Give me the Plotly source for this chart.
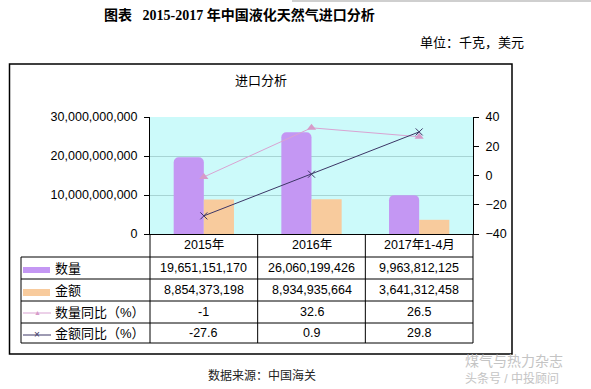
import plotly.graph_objects as go

# ---------------- data ----------------
categories = ["2015年", "2016年", "2017年1-4月"]
quantity = [19651151170, 26060199426, 9963812125]
amount = [8854373198, 8934935664, 3641312458]
quantity_yoy = [-1, 32.6, 26.5]
amount_yoy = [-27.6, 0.9, 29.8]
series_names = ["数量", "金额", "数量同比（%）", "金额同比（%）"]
left_ticks = [0, 10000000000, 20000000000, 30000000000]
right_ticks = [-40, -20, 0, 20, 40]

W, H = 591, 389
def px(x):
    return x / W
def py(y):
    return 1 - y / H

FONT = "Liberation Sans, Noto Sans CJK SC, sans-serif"
PURPLE = "#C497F3"
ORANGE = "#F8CB9D"
PINK = "#D9A3D2"
DARK = "#3C3666"
NUM = 12.5

xidx = list(range(len(categories)))

fig = go.Figure()
fig.add_bar(x=xidx, y=quantity, name=series_names[0], marker=dict(color=PURPLE, cornerradius=5, line_width=0))
fig.add_bar(x=xidx, y=amount, name=series_names[1], marker=dict(color=ORANGE, line_width=0))
fig.add_scatter(x=xidx, y=quantity_yoy, yaxis="y2", mode="lines+markers", name=series_names[2],
                line=dict(color=PINK, width=1),
                marker=dict(symbol="triangle-up", size=8, color="#D69BC9"))
fig.add_scatter(x=xidx, y=amount_yoy, yaxis="y2", mode="lines+markers", name=series_names[3],
                line=dict(color=DARK, width=1),
                marker=dict(symbol="x-thin", size=7, line=dict(color=DARK, width=1)))

x0, x1 = px(150), px(473)
ytop, ybot = 117, 234

fig.update_layout(
    template="none",
    width=W, height=H, margin=dict(l=0, r=0, t=0, b=0, pad=0, autoexpand=False),
    paper_bgcolor="white", plot_bgcolor="#CCFAFA",
    showlegend=False, barmode="group", bargap=0.44, bargroupgap=0,
    font=dict(family=FONT, size=13, color="#000"),
    xaxis=dict(domain=[x0, x1], range=[-0.5, 2.5], showticklabels=False, ticks="",
               showgrid=False, zeroline=False, showline=True, linecolor="#000", linewidth=1,
               automargin=False, fixedrange=True),
    yaxis=dict(domain=[py(ybot), py(ytop)], range=[0, 30000000000], tickvals=left_ticks,
               tickformat=",d", ticks="outside", ticklen=5, tickcolor="#000", tickwidth=1,
               ticklabelstandoff=4, automargin=False,
               showline=True, linecolor="#000", linewidth=1,
               showgrid=True, gridcolor="#A7D4D4", gridwidth=1, zeroline=False,
               tickfont=dict(size=NUM, family=FONT)),
    yaxis2=dict(overlaying="y", side="right", range=[-40, 40], tickvals=right_ticks,
                ticks="outside", ticklen=5, tickcolor="#000", tickwidth=1, ticklabelstandoff=4,
                automargin=False,
                showline=True, linecolor="#000", linewidth=1,
                showgrid=False, zeroline=False, tickfont=dict(size=NUM, family=FONT)),
)

shapes = []
def hline(xa, xb, y, color="#000", w=1):
    shapes.append(dict(type="line", xref="paper", yref="paper", x0=px(xa), x1=px(xb),
                       y0=py(y), y1=py(y), line=dict(color=color, width=w)))
def vline(x, ya, yb, xref="paper", color="#000", w=1):
    shapes.append(dict(type="line", xref=xref, yref="paper", x0=x, x1=x,
                       y0=py(ya), y1=py(yb), line=dict(color=color, width=w)))

# outer chart frame
shapes.append(dict(type="rect", xref="paper", yref="paper", x0=px(9.5), x1=px(512), y0=py(64), y1=py(354),
                   line=dict(color="#000", width=1.5)))
# top gray page line
hline(292, 591, 1, color="#cfcfcf", w=2)

# data table
row_lines = [257, 279, 301, 323, 343]
for y in row_lines:
    hline(21, 473, y)
vline(px(21), 257, 343)
vline(px(150), 234, 343)
vline(px(473), 234, 343)
for b in [0.5, 1.5]:
    vline(b, 234, 343, xref="x")

# legend swatches in table
shapes.append(dict(type="rect", xref="paper", yref="paper", x0=px(23), x1=px(50), y0=py(273), y1=py(267),
                   fillcolor=PURPLE, line=dict(width=0)))
shapes.append(dict(type="rect", xref="paper", yref="paper", x0=px(23), x1=px(50), y0=py(296), y1=py(289),
                   fillcolor=ORANGE, line=dict(width=0)))
hline(23, 51, 313, color=PINK, w=1)
hline(23, 51, 335, color=DARK, w=1)

annotations = []
def text(x, y, s, size=13, xanchor="center", color="#000", xref="paper", family=FONT, bold=False):
    if bold:
        s = "<b>" + s + "</b>"
    annotations.append(dict(x=x if xref != "paper" else px(x), y=py(y), xref=xref, yref="paper",
                            text=s, showarrow=False, xanchor=xanchor, yanchor="middle",
                            font=dict(size=size, color=color, family=family)))

# legend markers
text(37, 312, "▲", size=7, color="#D69BC9")
text(37, 334.5, "×", size=10, color=DARK)

# header row
row_y = [245.5, 268, 290, 312, 333]
for i, c in enumerate(categories):
    text(i, row_y[0], c, xref="x", size=NUM)
# label column
for j, n in enumerate(series_names):
    text(53, row_y[j + 1], n, xanchor="left", size=13)
# values
for i in xidx:
    text(i, row_y[1], f"{quantity[i]:,}", xref="x", size=NUM)
    text(i, row_y[2], f"{amount[i]:,}", xref="x", size=NUM)
    text(i, row_y[3], f"{quantity_yoy[i]:g}", xref="x", size=NUM)
    text(i, row_y[4], f"{amount_yoy[i]:g}", xref="x", size=NUM)

# titles
text(261, 81, "进口分析", size=13)
text(102, 15, "图表 &nbsp;&nbsp;2015-2017 年中国液化天然气进口分析", size=14, xanchor="left",
     family="Liberation Serif, Noto Sans CJK SC, serif", bold=True)
text(418, 43, "单位：千克，美元", size=13, xanchor="left")
text(206, 375, "数据来源：中国海关", size=12, xanchor="left", color="#222")
# watermark
text(463, 361, "煤气与热力杂志", size=14, xanchor="left", color="#c4c4c4")
text(463, 378, "头条号 / 中投顾问", size=12, xanchor="left", color="#c4c4c4")

fig.update_layout(shapes=shapes, annotations=annotations)
fig.write_html("out.html", config={"displayModeBar": False, "staticPlot": True},
               post_script="document.body.style.margin='0';document.body.style.overflow='hidden';")
